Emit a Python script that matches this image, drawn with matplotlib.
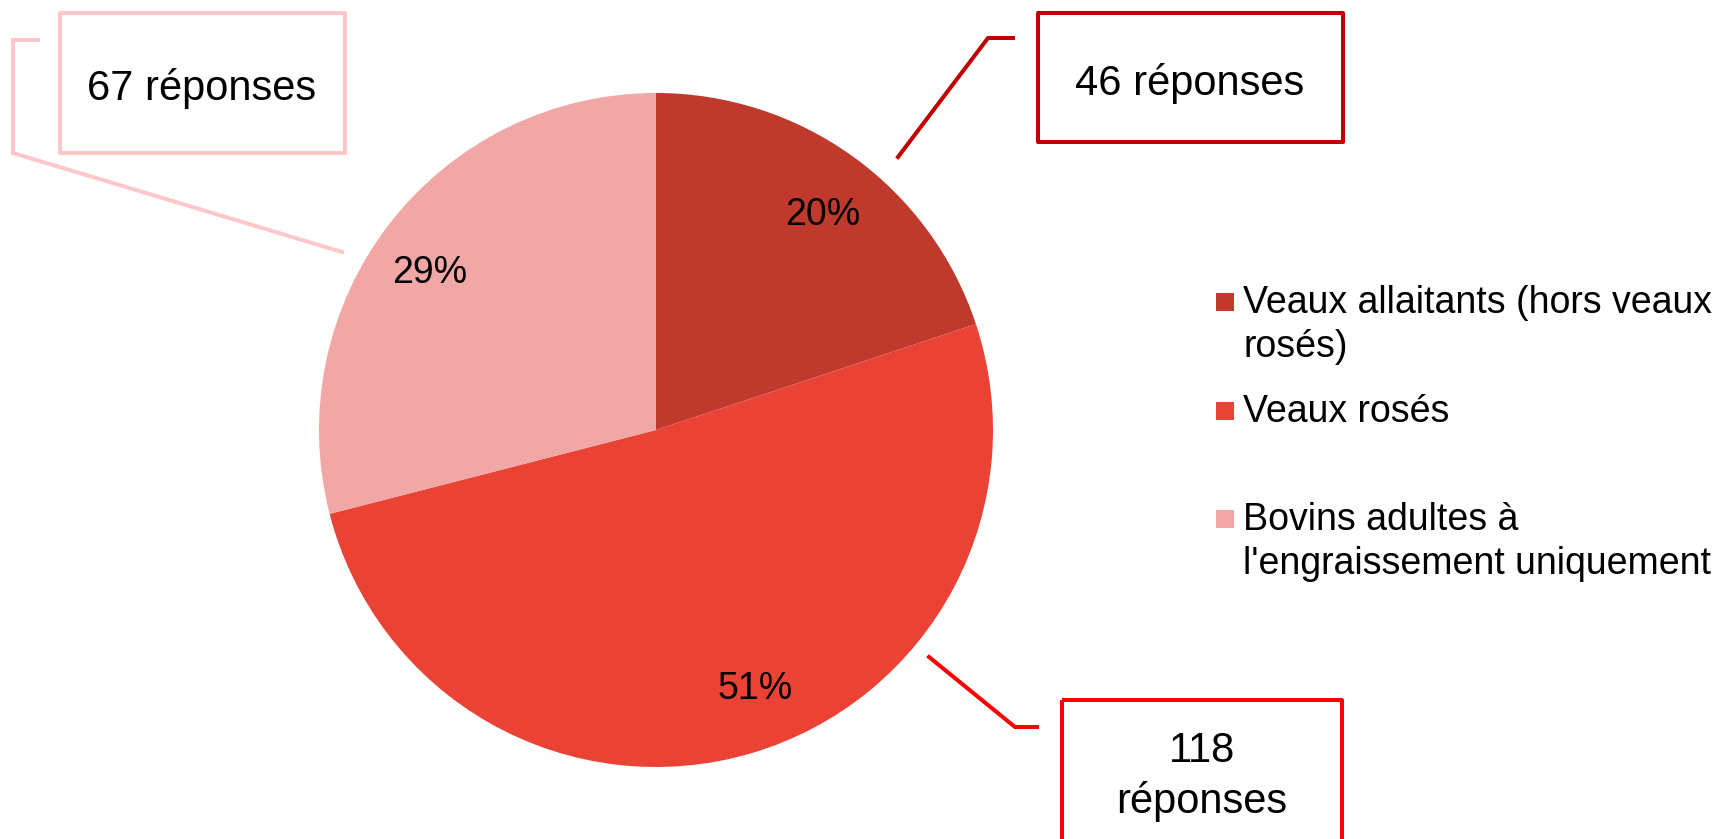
import matplotlib.pyplot as plt
from matplotlib.patches import Rectangle

plt.rcParams['font.family'] = ['Liberation Sans', 'DejaVu Sans']

# données
categories = ["Veaux allaitants (hors veaux\nrosés)", "Veaux rosés",
              "Bovins adultes à\nl'engraissement uniquement"]
reponses = [46, 118, 67]
couleurs = ['#C0392D', '#EA4336', '#F1A7A5']
couleurs_cadre = ['#C00000', '#FF0000', '#FFC7C7']
textes_cadre = ["46 réponses", "118\nréponses", "67 réponses"]

W, H = 1735, 839
fig = plt.figure(figsize=(W / 100, H / 100), dpi=100)

# camembert (centre 656,430 px, rayon 337 px)
cx, cy, r = 656, 430, 337
ax = fig.add_axes([(cx - r) / W, (H - cy - r) / H, 2 * r / W, 2 * r / H])
wedges, _, autotexts = ax.pie(reponses, colors=couleurs, startangle=90, counterclock=False,
                              autopct='%.0f%%', pctdistance=0.81,
                              wedgeprops=dict(linewidth=0),
                              textprops=dict(fontsize=27, color='black'))
# petit décalage des pourcentages comme dans l'original
decal = [(0.02, -0.02), (0.065, 0.01), (-0.03, -0.03)]
for t, (dx, dy) in zip(autotexts, decal):
    x, y = t.get_position()
    t.set_position((x + dx, y + dy))
ax.set_xlim(-1, 1)
ax.set_ylim(-1, 1)
ax.set_aspect('equal')
ax.axis('off')

# calque en pixels pour les cadres et la légende
ov = fig.add_axes([0, 0, 1, 1], zorder=5)
ov.set_xlim(0, W)
ov.set_ylim(H, 0)
ov.axis('off')
ov.patch.set_alpha(0)

lw = 2.9
# cadres : (x0, y0, x1, y1), position du texte, ligne de rappel
cadres = [(1038, 13, 1343, 142), (1062, 700, 1342, 880), (60, 13, 345, 153)]
pos_texte = [(1190, 95), (1202, 762), (202, 100)]
rappels = [[(1013, 38), (988, 38), (898, 157)],
           [(929, 657), (1015, 727), (1037, 727)],
           [(38, 40), (13, 40), (13, 153), (342, 252)]]

for i in range(len(reponses)):
    x0, y0, x1, y1 = cadres[i]
    ov.add_patch(Rectangle((x0, y0), x1 - x0, y1 - y0, fill=False,
                           edgecolor=couleurs_cadre[i], lw=lw, joinstyle='round'))
    tx, ty = pos_texte[i]
    for j, ligne in enumerate(textes_cadre[i].split('\n')):
        ov.text(tx, ty + j * 51, ligne, fontsize=30, ha='center', va='baseline')
    xs = [p[0] for p in rappels[i]]
    ys = [p[1] for p in rappels[i]]
    ov.plot(xs, ys, color=couleurs_cadre[i], lw=lw, solid_joinstyle='miter')

# légende
leg_y = [313, 422, 530]
for i, lab in enumerate(categories):
    ov.add_patch(Rectangle((1216, leg_y[i] - 20), 18, 18, color=couleurs[i], lw=0))
    for j, ligne in enumerate(lab.split('\n')):
        ov.text(1243, leg_y[i] + j * 44, ligne, fontsize=27, ha='left', va='baseline')

fig.savefig('out.png', dpi=100)
